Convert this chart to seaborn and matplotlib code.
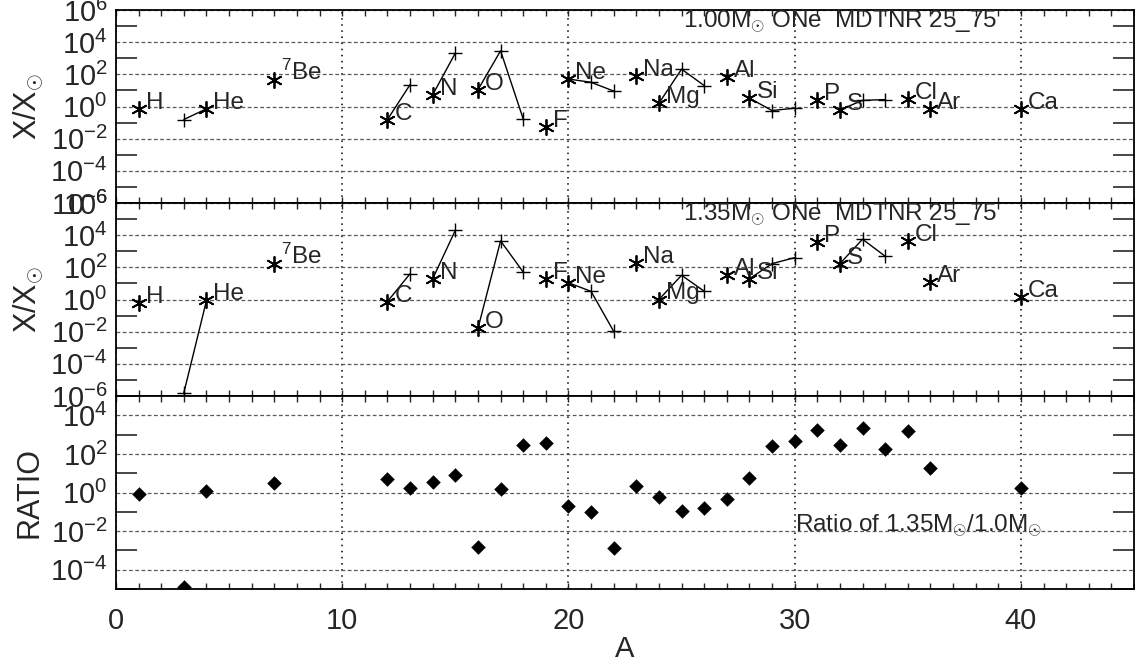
import matplotlib
matplotlib.use("Agg")
import matplotlib.pyplot as plt
import matplotlib.ticker as mticker
import numpy as np
import pandas as pd
import seaborn as sns

# ===== Data =====
mass_number = [1, 3, 4, 7, 12, 13, 14, 15, 16, 17, 18, 19, 20, 21, 22,
               23, 24, 25, 26, 27, 28, 29, 30, 31, 32, 33, 34, 35, 36, 40]
element = ['H', 'He', 'He', 'Be', 'C', 'C', 'N', 'N', 'O', 'O', 'O', 'F',
           'Ne', 'Ne', 'Ne', 'Na', 'Mg', 'Mg', 'Mg', 'Al', 'Si', 'Si', 'Si',
           'P', 'S', 'S', 'S', 'Cl', 'Ar', 'Ca']
is_main = [1, 0, 1, 1, 1, 0, 1, 0, 1, 0, 0, 1, 1, 0, 0,
           1, 1, 0, 0, 1, 1, 0, 0, 1, 1, 0, 0, 1, 1, 1]
label_text = {'H': 'H', 'He': 'He', 'Be': r'$^{7}$Be', 'C': 'C', 'N': 'N',
              'O': 'O', 'F': 'F', 'Ne': 'Ne', 'Na': 'Na', 'Mg': 'Mg',
              'Al': 'Al', 'Si': 'Si', 'P': 'P', 'S': 'S', 'Cl': 'Cl',
              'Ar': 'Ar', 'Ca': 'Ca'}

x_100 = [0.72, 0.155, 0.72, 47, 0.155, 23, 5.4, 2100, 11, 2900, 0.17, 0.056,
         51, 32, 9.1, 83, 1.6, 210, 20, 68, 3.3, 0.56, 0.79, 2.6, 0.62,
         2.4, 2.7, 3.0, 0.72, 0.72]
x_135 = [0.62, 1.6e-6, 0.87, 155, 0.75, 40, 19.5, 2.0e4, 0.016, 4400, 51,
         19.5, 11, 3.2, 0.0105, 186, 1.0, 32, 3.3, 35, 19.5, 170, 400, 3800,
         170, 5600, 490, 4400, 13, 1.4]
ratio = [0.85, 1.2e-5, 1.23, 3.2, 4.9, 1.74, 3.7, 8.5, 1.55e-3, 1.6, 280,
         355, 0.21, 0.1, 1.26e-3, 2.3, 0.58, 0.105, 0.16, 0.47, 5.8, 250,
         470, 1660, 280, 2200, 180, 1450, 19, 1.74]

df = pd.DataFrame({'A': mass_number, 'element': element, 'main': is_main,
                   'x100': x_100, 'x135': x_135, 'ratio': ratio})

# ===== Style =====
sns.set_style('ticks')
plt.rcParams['font.family'] = ['Liberation Sans', 'DejaVu Sans']
plt.rcParams['mathtext.fontset'] = 'custom'
plt.rcParams['mathtext.rm'] = 'Liberation Sans'
plt.rcParams['mathtext.it'] = 'Liberation Sans:italic'
plt.rcParams['mathtext.bf'] = 'Liberation Sans:bold'
plt.rcParams['axes.linewidth'] = 1.3

fig, axes = plt.subplots(3, 1, figsize=(11.35, 6.63), dpi=100, sharex=True)
fig.subplots_adjust(left=116 / 1135, right=1134 / 1135, top=1 - 10 / 663,
                    bottom=1 - 589 / 663, hspace=0)

star = (6, 2, 0)
tick_fs = 21
lab_fs = 17.5


def style_axis(ax, lo, hi):
    ax.set_yscale('log')
    ax.set_xlim(0, 45)
    ax.set_ylim(10.0 ** lo, 10.0 ** hi)
    even = [10.0 ** e for e in range(lo, hi + 1) if e % 2 == 0]
    odd = [10.0 ** e for e in range(lo, hi + 1) if e % 2 != 0]
    ax.yaxis.set_major_locator(mticker.FixedLocator(even))
    ax.yaxis.set_minor_locator(mticker.FixedLocator(odd))
    ax.yaxis.set_major_formatter(mticker.FuncFormatter(
        lambda v, p: r'$10^{%d}$' % round(np.log10(v))))
    ax.yaxis.set_minor_formatter(mticker.NullFormatter())
    ax.xaxis.set_major_locator(mticker.FixedLocator([0, 10, 20, 30, 40]))
    ax.xaxis.set_minor_locator(mticker.MultipleLocator(1))
    ax.tick_params(axis='y', which='major', length=0, labelsize=tick_fs, pad=6)
    ax.tick_params(axis='y', which='minor', length=15, width=1.2,
                   direction='in', left=True, right=True)
    ax.tick_params(axis='x', which='both', length=4, width=1,
                   direction='in', top=True, bottom=True,
                   labelsize=tick_fs, pad=13)
    ax.grid(axis='y', which='major', ls=(0, (3, 2)), color='0.35', lw=0.9)
    ax.grid(axis='x', which='major', ls=(0, (1, 3)), color='k', lw=1.1)
    for s in ax.spines.values():
        s.set_color('k')


def abundance_panel(ax, col, title):
    style_axis(ax, -6, 6)
    sns.lineplot(data=df, x='A', y=col, units='element', estimator=None,
                 color='k', lw=1, ax=ax, legend=False)
    main = df[df['main'] == 1]
    other = df[df['main'] == 0]
    sns.scatterplot(data=main, x='A', y=col, marker=star, s=120, color='k',
                    linewidth=1.3, ax=ax, legend=False, zorder=3)
    sns.scatterplot(data=other, x='A', y=col, marker='+', s=90, color='k',
                    linewidth=1, ax=ax, legend=False, zorder=3)
    for _, r in main.iterrows():
        ax.annotate(label_text[r['element']], (r['A'], r[col]),
                    xytext=(7, 0), textcoords='offset pixels',
                    fontsize=lab_fs, va='baseline', ha='left')
    ax.text(0.557, 0.911, title, transform=ax.transAxes, fontsize=lab_fs,
            va='baseline', ha='left')
    ax.set_ylabel(r'X/X$_{\odot}$', fontsize=22, labelpad=4)
    ax.set_xlabel('')


abundance_panel(axes[0], 'x100', r'1.00M$_{\odot}$ ONe  MDTNR 25_75')
abundance_panel(axes[1], 'x135', r'1.35M$_{\odot}$ ONe  MDTNR 25_75')

ax = axes[2]
style_axis(ax, -5, 5)
sns.scatterplot(data=df, x='A', y='ratio', marker='D', s=55, color='k',
                linewidth=0, ax=ax, legend=False, zorder=3)
ax.text(30, 1e-2, r'Ratio of 1.35M$_{\odot}$/1.0M$_{\odot}$', fontsize=lab_fs,
        va='baseline', ha='left')
ax.set_ylabel('RATIO', fontsize=22, labelpad=4)
ax.set_xlabel('A', fontsize=21, labelpad=0)

for a in axes[:2]:
    a.tick_params(axis='x', labelbottom=False)

fig.align_ylabels(axes)
plt.savefig('out.png', dpi=100)
plt.close()
